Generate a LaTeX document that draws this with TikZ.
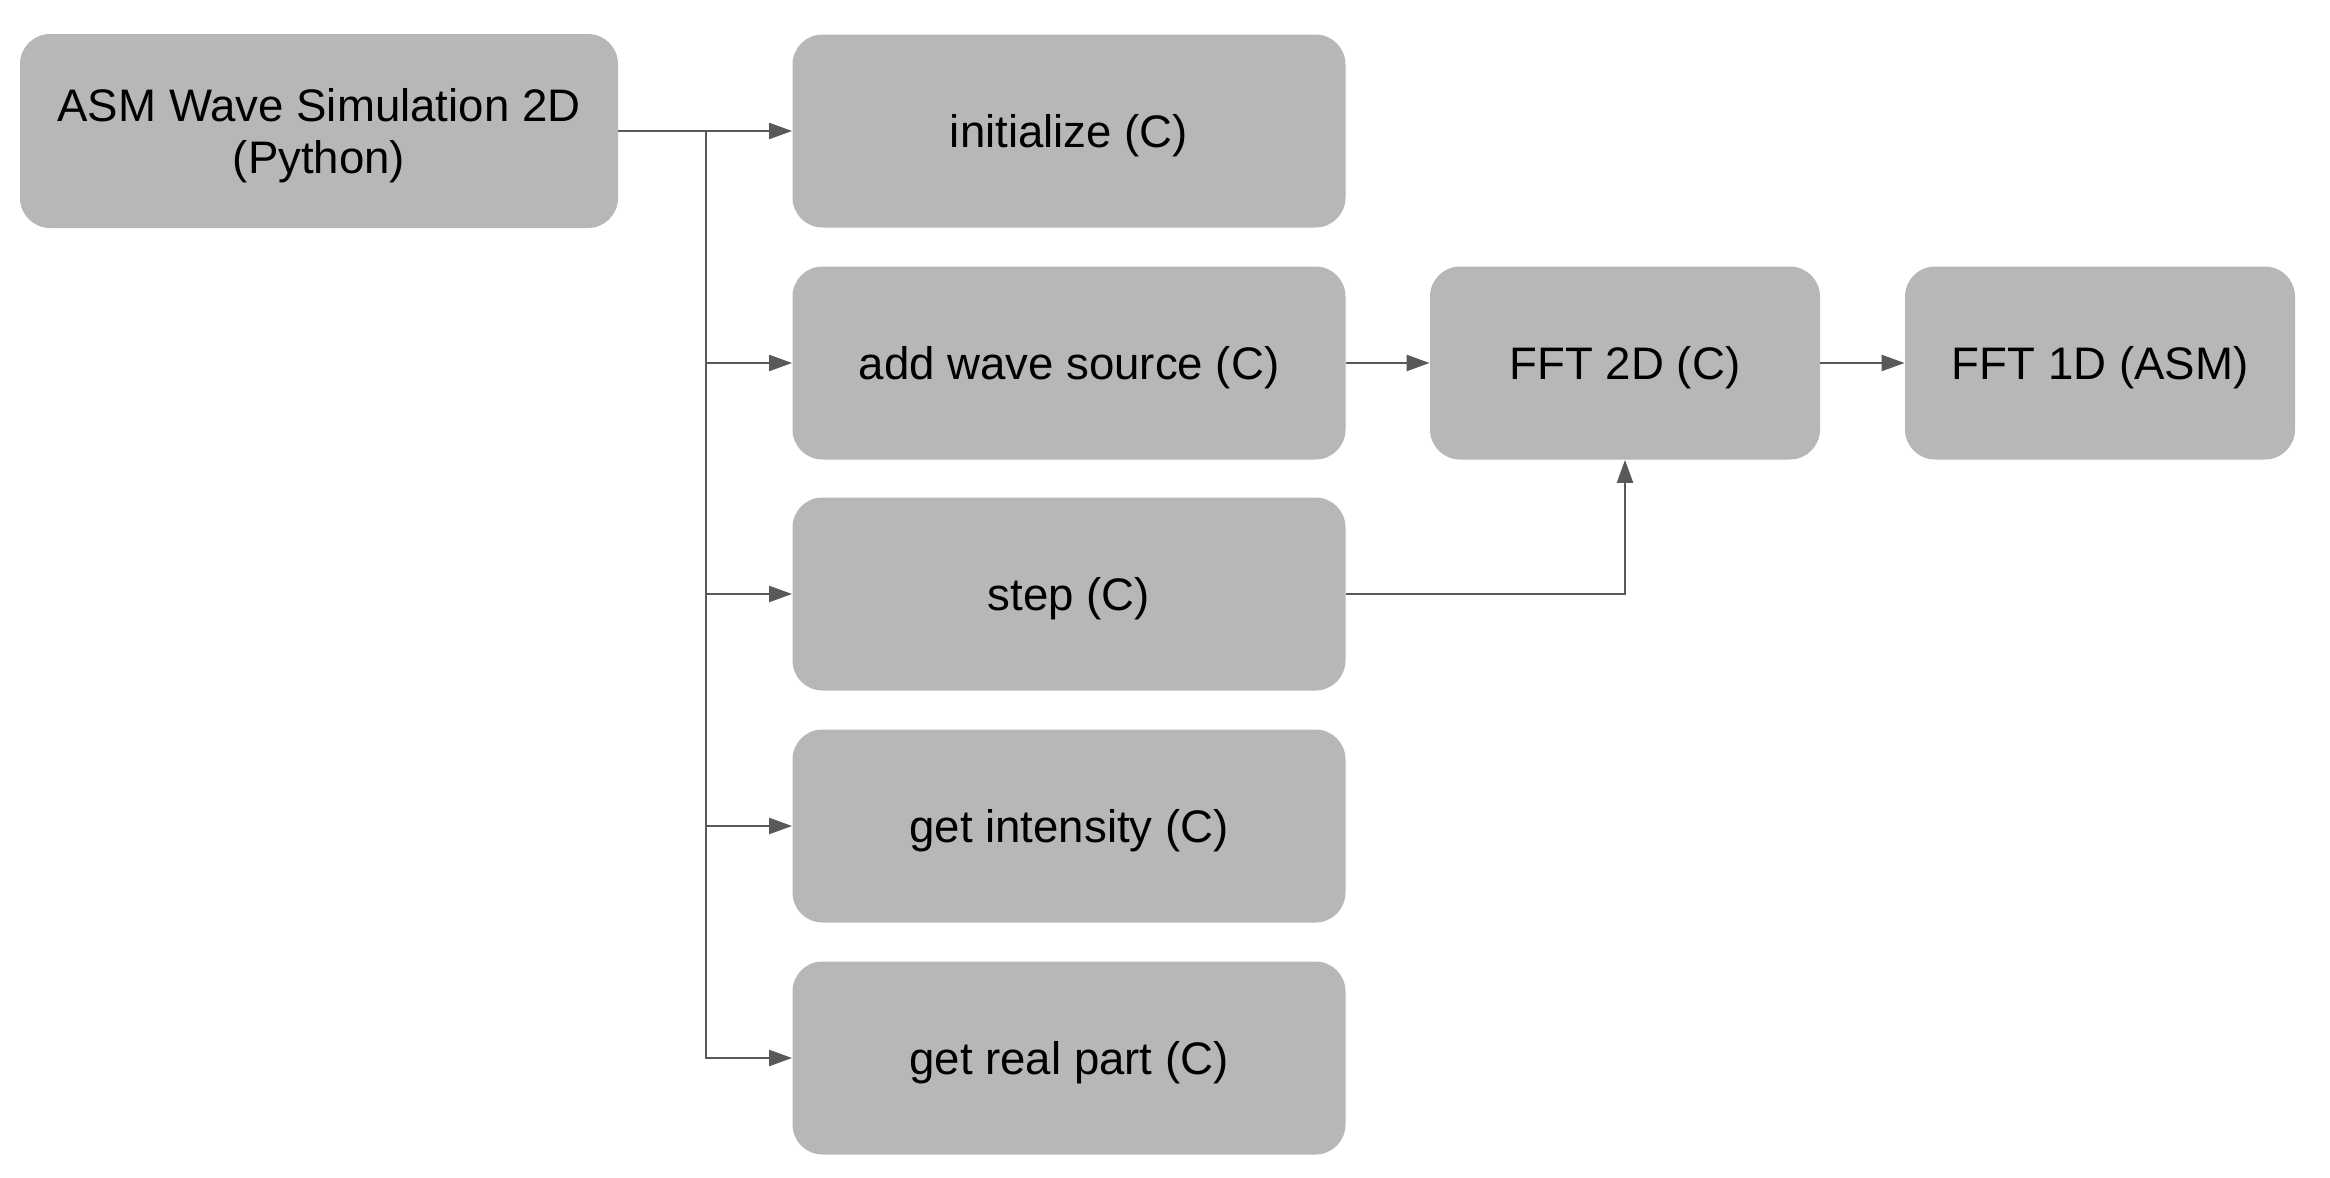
\documentclass[tikz,border=0pt]{standalone}
\usepackage{fontspec}
\setmainfont{Liberation Sans}
\usetikzlibrary{arrows.meta}
\definecolor{boxfill}{HTML}{B7B7B7}
\definecolor{linec}{HTML}{595959}
\begin{document}
\begin{tikzpicture}[x=0.5pt,y=-0.5pt,
  box/.style={fill=boxfill, draw=none, rounded corners=15pt, inner sep=0pt,
    align=center, font=\fontsize{22.8}{26}\selectfont, text=black,
    text height=16.3pt, text depth=0pt},
  colbox/.style={box, minimum width=276.5pt, minimum height=96.5pt},
  fftbox/.style={box, minimum width=195pt, minimum height=96.5pt},
  conn/.style={draw=linec, line width=1.2pt, -{Triangle[length=11.5pt,width=8pt]}}]
\useasboundingbox (0,0) rectangle (2330,1178);
\node[box, minimum width=299pt, minimum height=97pt, text height=42.3pt] (asm) at (319,131) {ASM Wave Simulation 2D\\(Python)};
\node[colbox] (init) at (1069,131) {initialize (C)};
\node[colbox] (add) at (1069,363) {add wave source (C)};
\node[colbox] (stp) at (1069,594) {step (C)};
\node[colbox] (inten) at (1069,826) {get intensity (C)};
\node[colbox] (real) at (1069,1058) {get real part (C)};
\node[fftbox] (ffttwo) at (1625,363) {FFT 2D (C)};
\node[fftbox] (fftone) at (2100,363) {FFT 1D (ASM)};
\coordinate (trunk) at (706,131);
\draw[conn] (asm.east) -- (init.west);
\draw[conn] (trunk) |- (add.west);
\draw[conn] (trunk) |- (stp.west);
\draw[conn] (trunk) |- (inten.west);
\draw[conn] (trunk) |- (real.west);
\draw[conn] (add.east) -- (ffttwo.west);
\draw[conn] (ffttwo.east) -- (fftone.west);
\draw[conn] (stp.east) -| (ffttwo.south);
\end{tikzpicture}
\end{document}
